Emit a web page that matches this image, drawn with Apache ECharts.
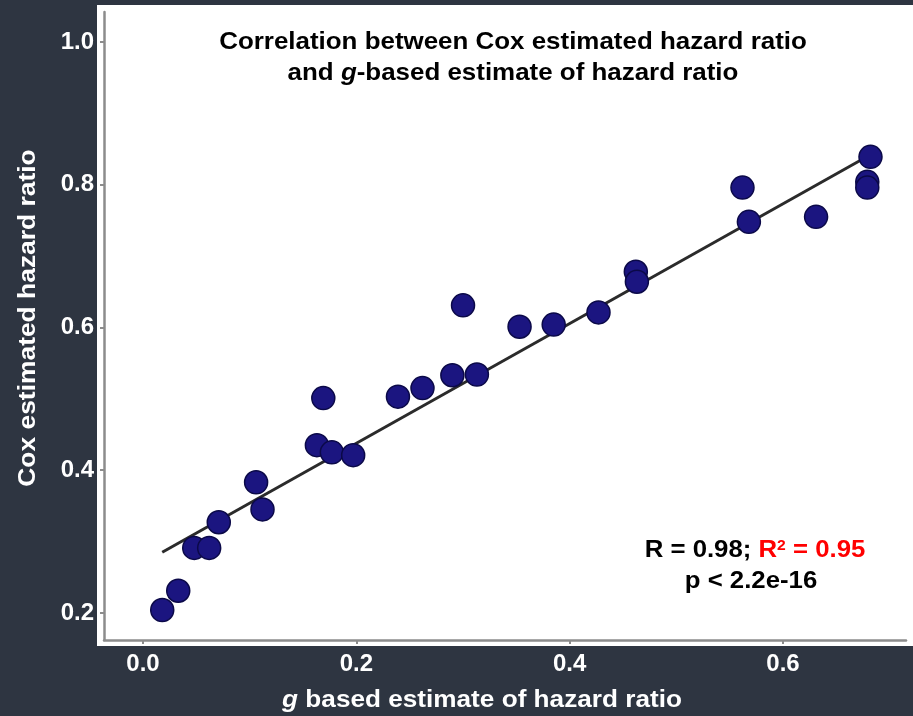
<!DOCTYPE html>
<html>
<head>
<meta charset="utf-8">
<script src="https://cdn.jsdelivr.net/npm/echarts@6/dist/echarts.min.js"></script>
<style>
html,body{margin:0;padding:0;background:#2e3541;}
#chart{width:913px;height:716px;}
</style>
</head>
<body>
<div id="chart"></div>
<script>
// ---- data ----
var gEstimate = [0.018, 0.033, 0.048, 0.062, 0.071, 0.106, 0.112, 0.163, 0.169, 0.177, 0.197, 0.239, 0.262, 0.290, 0.313, 0.300, 0.353, 0.385, 0.427, 0.462, 0.463, 0.562, 0.568, 0.631, 0.679, 0.679, 0.682];
var coxHR     = [0.204, 0.231, 0.291, 0.291, 0.327, 0.383, 0.345, 0.435, 0.501, 0.425, 0.421, 0.503, 0.515, 0.533, 0.534, 0.631, 0.601, 0.604, 0.621, 0.678, 0.664, 0.796, 0.748, 0.755, 0.804, 0.796, 0.839];
var fitX = [0.018, 0.689];
var fitY = [0.285, 0.848];
var xTicks = [0.0, 0.2, 0.4, 0.6];
var yTicks = [0.2, 0.4, 0.6, 0.8, 1.0];

var FONT = '"Liberation Sans", Arial, Helvetica, sans-serif';
var points = gEstimate.map(function (x, i) { return [x, coxHR[i]]; });
var fitLine = fitX.map(function (x, i) { return [x, fitY[i]]; });

var chart = echarts.init(document.getElementById('chart'), null, {renderer: 'canvas'});
var axisGrey = '#8c8c8c';
chart.setOption({
  backgroundColor: '#2e3541',
  animation: false,
  grid: {left: 104, right: 7, top: 12, bottom: 76, containLabel: false},
  graphic: [
    {type: 'rect', z: -10, shape: {x: 97, y: 5, width: 816, height: 641}, style: {fill: '#ffffff'}},
    {type: 'text', z: 10, x: 513, y: 58, scaleX: 1.08,
      style: {text: 'Correlation between Cox estimated hazard ratio\nand {i|g}-based estimate of hazard ratio',
        fill: '#000', fontSize: 24, fontWeight: 'bold', fontFamily: FONT, align: 'center', verticalAlign: 'middle', lineHeight: 31,
        rich: {i: {fontStyle: 'italic', fontWeight: 'bold', fontSize: 24, fontFamily: FONT, fill: '#000'}}}},
    {type: 'text', z: 10, x: 755, y: 551, scaleX: 1.12,
      style: {text: 'R = 0.98; {r|R}{s|2}{r| = 0.95}', fill: '#000', fontSize: 23, fontWeight: 'bold', fontFamily: FONT,
        align: 'center', verticalAlign: 'middle',
        rich: {r: {fill: '#ff0000', fontSize: 23, fontWeight: 'bold', fontFamily: FONT},
               s: {fill: '#ff0000', fontSize: 14, fontWeight: 'bold', fontFamily: FONT, verticalAlign: 'top', padding: [0, 0, 10, 0]}}}},
    {type: 'text', z: 10, x: 751, y: 582, scaleX: 1.12,
      style: {text: 'p < 2.2e-16', fill: '#000', fontSize: 23, fontWeight: 'bold', fontFamily: FONT, align: 'center', verticalAlign: 'middle'}},
    {type: 'text', z: 10, x: 482, y: 700, scaleX: 1.09,
      style: {text: '{i|g} based estimate of hazard ratio', fill: '#fff', fontSize: 24, fontWeight: 'bold', fontFamily: FONT,
        align: 'center', verticalAlign: 'middle',
        rich: {i: {fontStyle: 'italic', fontWeight: 'bold', fontSize: 24, fontFamily: FONT, fill: '#fff'}}}},
    {type: 'text', z: 10, x: 28, y: 318, rotation: Math.PI / 2, scaleX: 1.1,
      style: {text: 'Cox estimated hazard ratio', fill: '#fff', fontSize: 24, fontWeight: 'bold', fontFamily: FONT,
        align: 'center', verticalAlign: 'middle'}}
  ],
  xAxis: {
    type: 'value', min: -0.0366, max: 0.7153,
    axisLine: {show: true, onZero: false, lineStyle: {color: axisGrey, width: 2.5}},
    axisTick: {show: true, length: 4, lineStyle: {color: axisGrey, width: 2}, customValues: xTicks},
    axisLabel: {color: '#fff', fontSize: 24, fontWeight: 'bold', fontFamily: FONT, margin: 12, customValues: xTicks,
      formatter: function (v) { return v.toFixed(1); }},
    splitLine: {show: false}
  },
  yAxis: {
    type: 'value', min: 0.162, max: 1.042,
    axisLine: {show: true, onZero: false, lineStyle: {color: axisGrey, width: 2.5}},
    axisTick: {show: true, length: 4, lineStyle: {color: axisGrey, width: 2}, customValues: yTicks},
    axisLabel: {color: '#fff', fontSize: 24, fontWeight: 'bold', fontFamily: FONT, margin: 10, customValues: yTicks,
      formatter: function (v) { return v.toFixed(1); }},
    splitLine: {show: false}
  },
  series: [
    {type: 'line', data: fitLine, symbol: 'none', z: 3,
      lineStyle: {color: '#2b2b2b', width: 3}},
    {type: 'scatter', data: points, symbolSize: 23, z: 4,
      itemStyle: {color: '#1b1580', borderColor: '#0b0948', borderWidth: 1.5, opacity: 1}}
  ]
});
</script>
</body>
</html>
